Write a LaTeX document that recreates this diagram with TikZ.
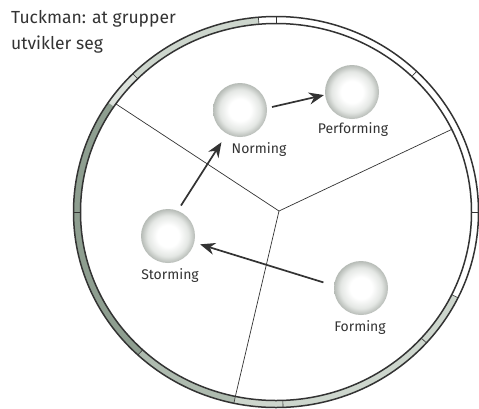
\documentclass[tikz,border=0pt]{standalone}
\usepackage{fontspec}
\setmainfont{Fira Sans}
\usetikzlibrary{calc,arrows.meta,shadings}
\definecolor{ink}{HTML}{333333}
\definecolor{ringdark}{HTML}{8E9E90}
\definecolor{ringmid}{HTML}{AEBBAF}
\definecolor{ringlight}{HTML}{CDD6CD}
\definecolor{ballrim}{HTML}{B6BBB6}
\definecolor{ballmid}{HTML}{E4E7E4}
\pgfdeclareradialshading{softball}{\pgfpoint{0bp}{0bp}}{%
  color(0bp)=(white); color(10bp)=(white); color(19bp)=(ballmid);
  color(25bp)=(ballrim); color(50bp)=(ballrim)}
\newcommand\ringseg[3]{%
  \fill[#3] ($(C)+(#1:202.5pt and 195.5pt)$)
    arc[start angle=#1,end angle=#2,x radius=202.5pt,y radius=195.5pt]
    -- ($(C)+(#2:195.5pt and 188.5pt)$)
    arc[start angle=#2,end angle=#1,x radius=195.5pt,y radius=188.5pt] -- cycle;}
\newcommand\ringtick[1]{%
  \draw[ticksty] ($(C)+(#1:195.5pt and 188.5pt)$) -- ($(C)+(#1:202.5pt and 195.5pt)$);}
\tikzset{
  ball/.style={circle,inner sep=0pt,minimum size=54pt,shading=softball},
  lbl/.style={font=\fontsize{14}{16}\selectfont,text=ink,inner sep=0pt},
  ringline/.style={draw=ink,line width=1.5pt},
  ticksty/.style={draw=ink,line width=0.6pt},
  partline/.style={draw=ink,line width=0.7pt},
  flow/.style={draw=ink,line width=1.7pt,-{Stealth[length=15pt,width=12pt]}}
}
\begin{document}
\begin{tikzpicture}[x=1pt,y=1pt]
\fill[white] (0,0) rectangle (479,-408);
\useasboundingbox (0,0) rectangle (479,-408);
\coordinate (C) at (276,-212);
% ring fills
\ringseg{95}{135}{ringlight}
\ringseg{135}{146}{ringlight!70!white}
\ringseg{146}{227}{ringdark}
\ringseg{227}{258}{ringmid}
\ringseg{258}{334}{ringlight}
% ring outlines
\draw[ringline] (C) ellipse[x radius=202.5pt,y radius=195.5pt];
\draw[ringline] (C) ellipse[x radius=195.5pt,y radius=188.5pt];
% ticks
\foreach \a in {46,90,95,135,180,227,258,272,318,334,0}{\ringtick{\a}}
% partition
\coordinate (J) at (279,-211);
\coordinate (E1) at ($(C)+(145:195.5pt and 188.5pt)$);
\coordinate (E2) at ($(C)+(26:195.5pt and 188.5pt)$);
\coordinate (E3) at ($(C)+(258:195.5pt and 188.5pt)$);
\draw[partline] (J) -- (E1);
\draw[partline] (J) -- (E2);
\draw[partline] (J) -- (E3);
% title
\node[anchor=north west,align=left,inner sep=0pt,text=ink,
  font=\fontsize{17.5}{26}\selectfont] (title) at (11,-10) {Tuckman: at grupper\\utvikler seg};
% balls
\node[ball] (N) at (240,-110) {};
\node[ball] (P) at (352,-92) {};
\node[ball] (S) at (168,-236) {};
\node[ball] (F) at (361,-288) {};
\node[lbl] (Nl) at (259,-150) {Norming};
\node[lbl] (Pl) at (353,-130) {Performing};
\node[lbl] (Sl) at (170,-276) {Storming};
\node[lbl] (Fl) at (360,-328) {Forming};
% arrows
\draw[flow,shorten <=6pt,shorten >=10pt] (S.69) -- (N.241);
\draw[flow,shorten <=5pt,shorten >=1pt] (N.4) -- (P.186);
\draw[flow,shorten <=11pt,shorten >=6pt] (F.175) -- (S.-14);
\end{tikzpicture}
\end{document}
